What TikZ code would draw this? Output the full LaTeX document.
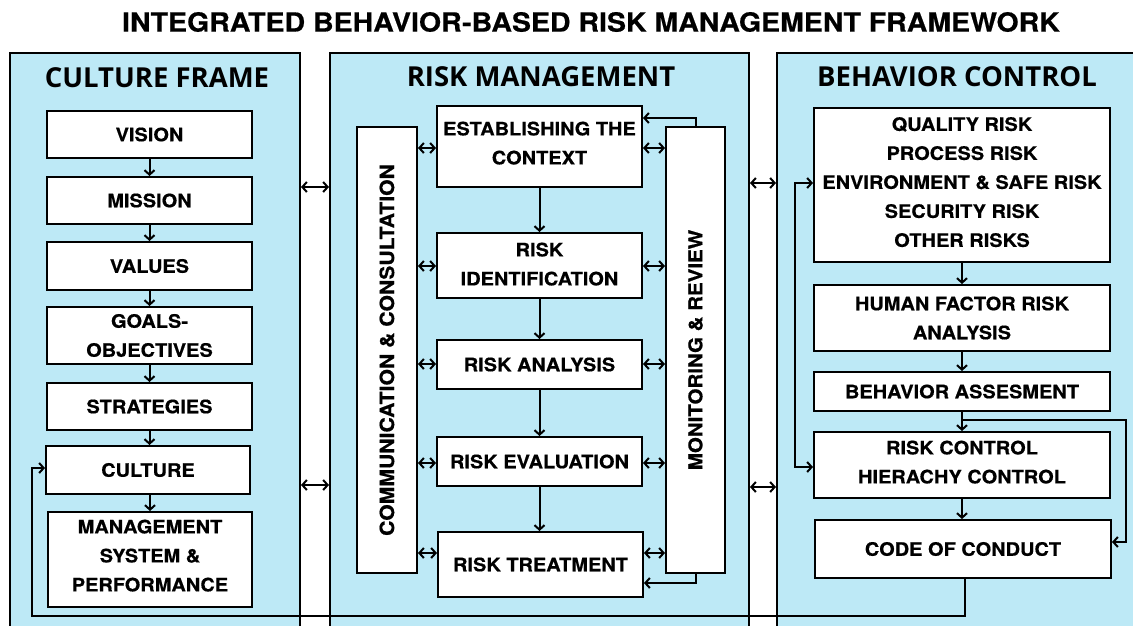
\documentclass[tikz,border=0pt]{standalone}
\usepackage{fontspec}
\usetikzlibrary{arrows.meta}
\newfontfamily\boxfont{TeX Gyre Heros}[FakeStretch=1.08,BoldFeatures={FakeBold=0.5}]
\newfontfamily\headfont{Open Sans}
\definecolor{panelblue}{RGB}{189,233,246}

\begin{document}
\begin{tikzpicture}[x=1pt,y=-1pt,
  panel/.style={draw=black, line width=2pt, fill=panelblue, inner sep=0pt},
  heading/.style={font=\headfont\bfseries\fontsize{27.5}{32}\selectfont, inner sep=0pt},
  stepbox/.style={draw=black, line width=2pt, fill=white, inner sep=0pt, align=center,
    font=\boxfont\bfseries\fontsize{18.5}{29}\selectfont},
  boxtext/.style={inner sep=0pt, align=center, font=\boxfont\bfseries\fontsize{18.5}{29}\selectfont},
  tip/.tip={Straight Barb[length=4.5pt,width=10pt]},
  arr/.style={-tip, line width=2pt},
  darr/.style={tip-tip, line width=2pt}]

\useasboundingbox (0,0) rectangle (1133,625);
\clip (0,0) rectangle (1133,625);
\fill[white] (0,0) rectangle (1133,625);

% title
\node[font=\boxfont\bfseries\fontsize{26.4}{30}\selectfont] (title) at (591,22)
  {INTEGRATED BEHAVIOR-BASED RISK MANAGEMENT FRAMEWORK};

% three panels
\node[panel, minimum width=290, minimum height=607] (lp) at (155,356.5) {};
\node[panel, minimum width=419, minimum height=607] (mp) at (539.5,356.5) {};
\node[panel, minimum width=368, minimum height=607] (rp) at (961,356.5) {};

\node[heading] (lph) at (157,78) {CULTURE FRAME};
\node[heading] (mph) at (541,77) {RISK MANAGEMENT};
\node[heading] (rph) at (957,77) {BEHAVIOR CONTROL};

% culture frame chain
\node[stepbox, minimum width=205, minimum height=47] (vision) at (149.5,134.5) {VISION};
\node[stepbox, minimum width=205, minimum height=47] (mission) at (149.5,200.5) {MISSION};
\node[stepbox, minimum width=205, minimum height=48] (values) at (149.5,266) {VALUES};
\node[stepbox, minimum width=205, minimum height=57] (goals) at (149.5,335.5) {GOALS-\\OBJECTIVES};
\node[stepbox, minimum width=205, minimum height=47] (strat) at (149.5,406.5) {STRATEGIES};
\node[stepbox, minimum width=204, minimum height=48] (culture) at (148,470) {CULTURE};
\node[stepbox, minimum width=204, minimum height=95, text depth=8pt] (mgmt) at (150,559.5) {MANAGEMENT\\SYSTEM \&\\PERFORMANCE};

\draw[arr] (vision.south) -- (mission.north);
\draw[arr] (mission.south) -- (values.north);
\draw[arr] (values.south) -- (goals.north);
\draw[arr] (goals.south) -- (strat.north);
\draw[arr] (strat.south) -- (strat.south |- culture.north);
\draw[arr] (culture.south -| mgmt.north) -- (mgmt.north);

% risk management process
\node[stepbox, minimum width=60, minimum height=446] (comm) at (387,350) {};
\node[boxtext, rotate=90, font=\boxfont\bfseries\fontsize{19.6}{29}\selectfont] (commlabel) at (comm) {COMMUNICATION \& CONSULTATION};
\node[stepbox, minimum width=59, minimum height=446] (mon) at (695.5,350) {};
\node[boxtext, rotate=90, font=\boxfont\bfseries\fontsize{19}{29}\selectfont] (monlabel) at (mon) {MONITORING \& REVIEW};

\node[stepbox, minimum width=205, minimum height=81, text depth=7pt] (est) at (539.5,146.5) {ESTABLISHING THE\\CONTEXT};
\node[stepbox, minimum width=205, minimum height=65, text depth=3pt] (ident) at (539.5,265.5) {RISK\\IDENTIFICATION};
\node[stepbox, minimum width=205, minimum height=49] (anal) at (539.5,364.5) {RISK ANALYSIS};
\node[stepbox, minimum width=205, minimum height=49] (eval) at (539.5,461.5) {RISK EVALUATION};
\node[stepbox, minimum width=205, minimum height=65] (treat) at (540.5,564.5) {RISK TREATMENT};

\draw[arr] (est.south) -- (ident.north);
\draw[arr] (ident.south) -- (anal.north);
\draw[arr] (anal.south) -- (eval.north);
\draw[arr] (eval.south) -- (eval.south |- treat.north);

\coordinate (yest) at (0,148);
\coordinate (yident) at (0,266);
\coordinate (yanal) at (0,364);
\coordinate (yeval) at (0,463);
\coordinate (ytreat) at (0,553);
\foreach \s/\y in {est/yest, ident/yident, anal/yanal, eval/yeval, treat/ytreat}{
  \draw[darr] (comm.east |- \y) -- (\s.west |- \y);
  \draw[darr] (\s.east |- \y) -- (mon.west |- \y);
}

\coordinate (montop) at (0,118);
\coordinate (monbot) at (0,583);
\draw[arr] (mon.north) -- (mon.north |- montop) -- (est.east |- montop);
\draw[arr] (mon.south) -- (mon.south |- monbot) -- (treat.east |- monbot);

% links between panels
\coordinate (g1) at (0,187);
\coordinate (g2) at (0,485);
\coordinate (g3) at (0,183);
\coordinate (g4) at (0,487);
\draw[darr] (lp.east |- g1) -- (mp.west |- g1);
\draw[darr] (lp.east |- g2) -- (mp.west |- g2);
\draw[darr] (mp.east |- g3) -- (rp.west |- g3);
\draw[darr] (mp.east |- g4) -- (rp.west |- g4);

% behavior control chain
\node[stepbox, minimum width=296, minimum height=154, text depth=6pt] (risks) at (962,185)
  {QUALITY RISK\\PROCESS RISK\\ENVIRONMENT \& SAFE RISK\\SECURITY RISK\\OTHER RISKS};
\node[stepbox, minimum width=296, minimum height=66] (hf) at (962,318) {HUMAN FACTOR RISK\\ANALYSIS};
\node[stepbox, minimum width=296, minimum height=39] (ba) at (962,391.5) {BEHAVIOR ASSESMENT};
\node[stepbox, minimum width=296, minimum height=66, text depth=6pt] (rc) at (962,465) {RISK CONTROL\\HIERACHY CONTROL};
\node[stepbox, minimum width=296, minimum height=58] (coc) at (963,549) {CODE OF CONDUCT};

\draw[arr] (risks.south) -- (hf.north);
\draw[arr] (hf.south) -- (ba.north);
\draw[arr] (ba.south) -- (rc.north);
\draw[arr] (rc.south) -- (rc.south |- coc.north);

\coordinate (la) at (795,183);
\coordinate (lb) at (795,467);
\draw[darr] (risks.west |- la) -- (la) -- (lb) -- (rc.west |- lb);

\coordinate (ra) at (1126,420);
\coordinate (rb) at (1126,542);
\draw[arr] (ba.south |- ra) -- (ra) -- (rb) -- (coc.east |- rb);

% feedback from code of conduct to culture
\coordinate (fa) at (965,616);
\coordinate (fb) at (32,616);
\coordinate (fc) at (32,468);
\draw[arr] (coc.south -| fa) -- (fa) -- (fb) -- (fc) -- (culture.west |- fc);

\end{tikzpicture}
\end{document}
